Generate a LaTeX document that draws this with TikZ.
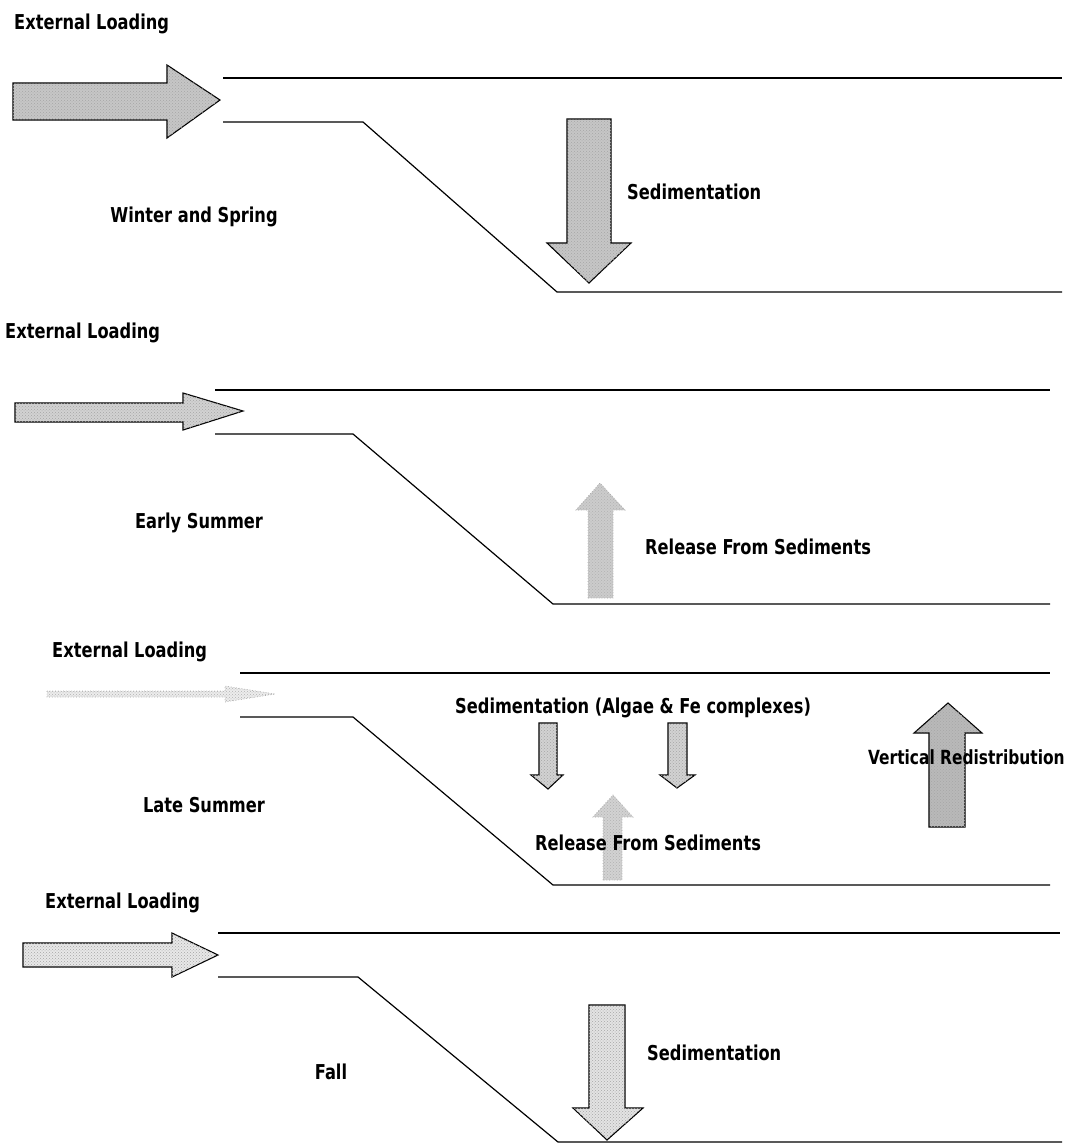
\documentclass[tikz,border=0pt]{standalone}
\usepackage{fontspec}
\newfontfamily\condfont{DejaVu Sans Condensed}[FakeStretch=0.88]
\usepackage{tikz}
\usetikzlibrary{positioning,patterns}

\begin{document}
\begin{tikzpicture}[
  x=1pt, y=-1pt,
  lbl/.style={font=\condfont\bfseries\fontsize{20.5}{22}\selectfont, inner sep=0pt},
  shore/.style={line width=1.2pt},
  flux/.style={draw=black, line width=1.1pt, fill=gray!#1,
    postaction={pattern=crosshatch dots, pattern color=black!35}},
  faint/.style={draw=gray!70, line width=0.7pt, dotted, fill=gray!#1,
    postaction={pattern=crosshatch dots, pattern color=black!30}}
  ]
  \useasboundingbox (0,0) rectangle (1073,1146);

  % Winter and Spring
  \node[lbl, anchor=west] (ext1) at (14,24) {External Loading};
  \draw[shore] (223,78) -- (1062,78);
  \draw[shore] (223,122) -- (363,122) -- (557,292) -- (1062,292);
  \filldraw[flux=45] (13,83) -- (167,83) -- (167,65) -- (220,100) -- (167,138) -- (167,120) -- (13,120) -- cycle;
  \filldraw[flux=45] (567,119) -- (611,119) -- (611,243) -- (631,243) -- (589,283) -- (547,243) -- (567,243) -- cycle;
  \node[lbl] (win) at (194,217) {Winter and Spring};
  \node[lbl, anchor=west] (sed1) at (627,192) {Sedimentation};

  % Early Summer
  \node[lbl, anchor=west] (ext2) at (5,333) {External Loading};
  \draw[shore] (215,390) -- (1050,390);
  \draw[shore] (215,434) -- (353,434) -- (553,604) -- (1050,604);
  \filldraw[flux=35] (15,403) -- (183,403) -- (183,393) -- (243,411) -- (183,430) -- (183,422) -- (15,422) -- cycle;
  \filldraw[faint=40] (588,598) -- (588,510) -- (576,510) -- (600,483) -- (625,510) -- (613,510) -- (613,598) -- cycle;
  \node[lbl] (esum) at (199,523) {Early Summer};
  \node[lbl, anchor=west] (rel2) at (645,547) {Release From Sediments};

  % Late Summer
  \node[lbl, anchor=west] (ext3) at (52,652) {External Loading};
  \draw[shore] (240,673) -- (1050,673);
  \draw[shore] (240,717) -- (353,717) -- (553,885) -- (1050,885);
  \filldraw[faint=15] (47,691) -- (225,691) -- (225,686) -- (275,694) -- (225,702) -- (225,697) -- (47,697) -- cycle;
  \filldraw[flux=35] (539,723) -- (557,723) -- (557,775) -- (563,775) -- (548,789) -- (531,775) -- (539,775) -- cycle;
  \filldraw[flux=35] (668,723) -- (687,723) -- (687,775) -- (695,775) -- (677,788) -- (660,775) -- (668,775) -- cycle;
  \filldraw[faint=35] (603,880) -- (603,817) -- (593,817) -- (613,795) -- (633,817) -- (622,817) -- (622,880) -- cycle;
  \filldraw[flux=55] (929,827) -- (929,733) -- (914,733) -- (948,703) -- (982,733) -- (965,733) -- (965,827) -- cycle;
  \node[lbl] (lsum) at (204,805) {Late Summer};
  \node[lbl, anchor=west] (sed3) at (455,708) {Sedimentation (Algae \& Fe complexes)};
  \node[lbl, anchor=west] (rel3) at (535,843) {Release From Sediments};
  \node[lbl, anchor=west, font=\condfont\bfseries\fontsize{19.5}{21}\selectfont] (vert) at (868,757) {Vertical Redistribution};

  % Fall
  \node[lbl, anchor=west] (ext4) at (45,903) {External Loading};
  \draw[shore] (218,933) -- (1060,933);
  \draw[shore] (218,977) -- (358,977) -- (558,1142) -- (1062,1142);
  \filldraw[flux=18] (23,943) -- (172,943) -- (172,933) -- (218,955) -- (172,977) -- (172,967) -- (23,967) -- cycle;
  \filldraw[flux=22] (589,1005) -- (625,1005) -- (625,1108) -- (643,1108) -- (607,1140) -- (573,1108) -- (589,1108) -- cycle;
  \node[lbl] (fall) at (331,1072) {Fall};
  \node[lbl, anchor=west] (sed4) at (647,1053) {Sedimentation};
\end{tikzpicture}
\end{document}
